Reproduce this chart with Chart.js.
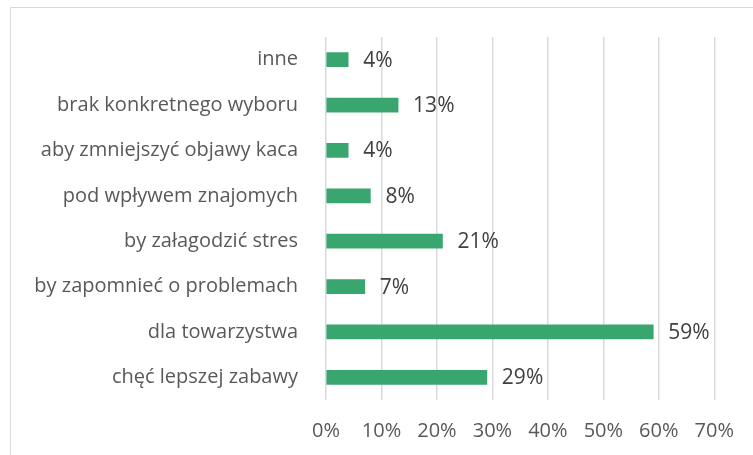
<!DOCTYPE html>
<html>
<head>
<meta charset="utf-8">
<script src="https://cdn.jsdelivr.net/npm/chart.js@4.4.1/dist/chart.umd.min.js"></script>
<style>
  body { margin: 0; background: #fff; }
  #wrap { position: relative; width: 753px; height: 455px; overflow: hidden; }
  #frame { position: absolute; left: 10px; top: 7px; width: 760px; height: 470px; border: 1.5px solid #d9d9d9; box-sizing: border-box; }
  canvas { position: absolute; left: 0; top: 0; }
</style>
</head>
<body>
<div id="wrap">
  <div id="frame"></div>
  <canvas id="chart" width="753" height="455"></canvas>
</div>
<script>
// kategorie (od góry do dołu) i wartości w procentach
const kategorie = [
    'inne',
    'brak konkretnego wyboru',
    'aby zmniejszyć objawy kaca',
    'pod wpływem znajomych',
    'by załagodzić stres',
    'by zapomnieć o problemach',
    'dla towarzystwa',
    'chęć lepszej zabawy'
];
const wartosci = [4, 13, 4, 8, 21, 7, 59, 29];
const osX = [0, 10, 20, 30, 40, 50, 60, 70];

const FONT = '"Open Sans", "Liberation Sans", sans-serif';

// etykiety z wartościami przy końcu słupków
const etykiety = {
    id: 'etykiety',
    afterDatasetsDraw(chart) {
        const c = chart.ctx;
        const meta = chart.getDatasetMeta(0);
        c.save();
        c.font = '21px ' + FONT;
        c.fillStyle = '#404040';
        c.textAlign = 'left';
        c.textBaseline = 'middle';
        meta.data.forEach((bar, i) => {
            c.fillText(wartosci[i] + '%', bar.x + 15, bar.y + 1);
        });
        c.restore();
    }
};

const ctx = document.getElementById('chart').getContext('2d');
new Chart(ctx, {
    type: 'bar',
    data: {
        labels: kategorie,
        datasets: [{
            data: wartosci,
            backgroundColor: '#3aa66f',
            barThickness: 14
        }]
    },
    options: {
        indexAxis: 'y',
        responsive: false,
        animation: false,
        layout: { padding: { top: 37, right: 36, bottom: 0, left: 0 } },
        plugins: { legend: { display: false }, tooltip: { enabled: false } },
        scales: {
            x: {
                min: osX[0],
                max: osX[osX.length - 1],
                afterBuildTicks(scale) { scale.ticks = osX.map(v => ({ value: v })); },
                grid: { color: '#d9d9d9', lineWidth: 1.5, drawTicks: false },
                border: { display: false },
                ticks: {
                    padding: 19,
                    color: '#595959',
                    font: { family: FONT, size: 20 },
                    callback: v => v + '%'
                },
                afterFit(scale) { scale.height = 55; }
            },
            y: {
                grid: { display: false },
                border: { display: false },
                ticks: {
                    padding: 20,
                    color: '#595959',
                    font: { family: FONT, size: 20 }
                },
                afterFit(scale) { scale.width = 326; }
            }
        }
    },
    plugins: [etykiety]
});
</script>
</body>
</html>
